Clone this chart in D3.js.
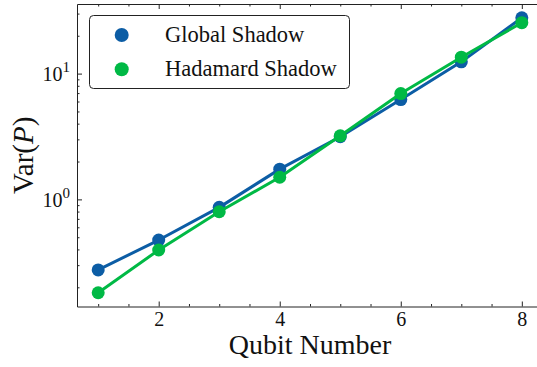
<!DOCTYPE html>
<html>
<head>
<meta charset="utf-8">
<script src="https://cdn.jsdelivr.net/npm/d3@7"></script>
<style>
  html, body { margin: 0; padding: 0; background: #fff; }
  svg { display: block; }
  svg text { font-family: "Liberation Serif", "DejaVu Serif", serif; fill: #111; }
</style>
</head>
<body>
<svg id="chart" width="537" height="367"></svg>
<script>
// Variance of the estimator P versus number of qubits, for two shadow protocols
const qubits = [1, 2, 3, 4, 5, 6, 7, 8];
const globalVar = [0.275, 0.475, 0.864, 1.74, 3.15, 6.22, 12.4, 27.8];
const hadamardVar = [0.181, 0.396, 0.797, 1.50, 3.20, 6.94, 13.5, 25.4];
const seriesNames = ["Global Shadow", "Hadamard Shadow"];
const seriesColors = ["#0C5DA5", "#00B945"];
const xTicks = [2, 4, 6, 8];
const yTicks = [1, 10];
const yTickExp = ["0", "1"];

const FONT = '"Liberation Serif", "DejaVu Serif", serif';
const svg = d3.select("#chart");
const plotLeft = 77, plotRight = 543, plotTop = 4, plotBottom = 306.5;

// x domain padded by 5% of the data span, y padded by 5% in log space
const xSpan = d3.max(qubits) - d3.min(qubits);
const x = d3.scaleLinear()
  .domain([d3.min(qubits) - 0.05 * xSpan, d3.max(qubits) + 0.05 * xSpan])
  .range([plotLeft, plotRight]);

const allVals = globalVar.concat(hadamardVar);
const lo = Math.log10(d3.min(allVals)), hi = Math.log10(d3.max(allVals));
const lSpan = hi - lo;
const y = d3.scaleLog()
  .domain([Math.pow(10, lo - 0.05 * lSpan), Math.pow(10, hi + 0.05 * lSpan)])
  .range([plotBottom, plotTop]);

// minor tick positions
const xMinor = d3.range(Math.ceil(x.domain()[0] * 2) / 2, x.domain()[1], 0.5)
  .filter(v => !xTicks.includes(v));
const yMinor = [];
for (let e = -1; e <= 1; e++) {
  for (let m = 2; m <= 9; m++) {
    const v = m * Math.pow(10, e);
    if (v >= y.domain()[0] && v <= y.domain()[1]) yMinor.push(v);
  }
}

const axisStyle = g => {
  g.selectAll("path.domain").attr("stroke", "#222").attr("stroke-width", 1);
  g.selectAll(".tick line").attr("stroke", "#222").attr("stroke-width", 1);
};

// bottom axis: inward ticks
const gx = svg.append("g").attr("transform", `translate(0,${plotBottom})`)
  .call(d3.axisBottom(x).tickValues(xTicks).tickSize(-5).tickSizeOuter(0).tickPadding(5)
    .tickFormat(d3.format("d")))
  .call(axisStyle);
gx.attr("font-family", null).attr("font-size", null);
gx.selectAll(".tick text").style("font-family", FONT).style("font-size", "20px").attr("fill", "#111");
svg.append("g").attr("transform", `translate(0,${plotBottom})`)
  .call(d3.axisBottom(x).tickValues(xMinor).tickSize(-2.5).tickSizeOuter(0).tickFormat(""))
  .call(axisStyle).select("path.domain").remove();

// top axis
svg.append("g").attr("transform", `translate(0,${plotTop})`)
  .call(d3.axisTop(x).tickValues(xTicks).tickSize(-5).tickSizeOuter(0).tickFormat(""))
  .call(axisStyle);
svg.append("g").attr("transform", `translate(0,${plotTop})`)
  .call(d3.axisTop(x).tickValues(xMinor).tickSize(-2.5).tickSizeOuter(0).tickFormat(""))
  .call(axisStyle).select("path.domain").remove();

// left axis
svg.append("g").attr("transform", `translate(${plotLeft},0)`)
  .call(d3.axisLeft(y).tickValues(yTicks).tickSize(-5).tickSizeOuter(0).tickFormat(""))
  .call(axisStyle);
svg.append("g").attr("transform", `translate(${plotLeft},0)`)
  .call(d3.axisLeft(y).tickValues(yMinor).tickSize(-2.5).tickSizeOuter(0).tickFormat(""))
  .call(axisStyle).select("path.domain").remove();

// right axis
svg.append("g").attr("transform", `translate(${plotRight},0)`)
  .call(d3.axisRight(y).tickValues(yTicks).tickSize(-5).tickSizeOuter(0).tickFormat(""))
  .call(axisStyle);
svg.append("g").attr("transform", `translate(${plotRight},0)`)
  .call(d3.axisRight(y).tickValues(yMinor).tickSize(-2.5).tickSizeOuter(0).tickFormat(""))
  .call(axisStyle).select("path.domain").remove();

// y tick labels as powers of ten
yTicks.forEach((v, i) => {
  const t = svg.append("text")
    .attr("x", plotLeft - 7).attr("y", y(v) + 7.7)
    .attr("text-anchor", "end")
    .style("font-family", FONT).style("font-size", "20px");
  t.append("tspan").text("10");
  t.append("tspan").style("font-size", "15px").attr("dy", -9).text(yTickExp[i]);
});

// series
const seriesData = [globalVar, hadamardVar];
const line = d3.line().x((d, i) => x(qubits[i])).y(d => y(d));
seriesData.forEach((vals, s) => {
  const g = svg.append("g");
  g.append("path").datum(vals)
    .attr("d", line).attr("fill", "none")
    .attr("stroke", seriesColors[s]).attr("stroke-width", 3).attr("stroke-linejoin", "round");
  g.selectAll("circle").data(vals).join("circle")
    .attr("cx", (d, i) => x(qubits[i])).attr("cy", d => y(d))
    .attr("r", 6.5).attr("fill", seriesColors[s]);
});

// legend
const leg = svg.append("g");
leg.append("rect")
  .attr("x", 89.5).attr("y", 15.5).attr("width", 260).attr("height", 73)
  .attr("rx", 4).attr("ry", 4)
  .attr("fill", "#fff").attr("stroke", "#222").attr("stroke-width", 1);
seriesNames.forEach((name, s) => {
  const cy = 35 + s * 34.3;
  leg.append("circle").attr("cx", 121.7).attr("cy", cy).attr("r", 7).attr("fill", seriesColors[s]);
  leg.append("text").attr("x", 165).attr("y", cy + 7)
    .style("font-family", FONT).style("font-size", "22.5px").text(name);
});

// axis titles
svg.append("text")
  .attr("x", (plotLeft + plotRight) / 2).attr("y", 354)
  .attr("text-anchor", "middle")
  .style("font-family", FONT).style("font-size", "28px")
  .text("Qubit Number");

const yl = svg.append("text")
  .attr("transform", `translate(33,${(plotTop + plotBottom) / 2}) rotate(-90)`)
  .attr("text-anchor", "middle")
  .style("font-family", FONT).style("font-size", "29px");
yl.append("tspan").text("Var(");
yl.append("tspan").style("font-style", "italic").text("P");
yl.append("tspan").text(")");
</script>
</body>
</html>
